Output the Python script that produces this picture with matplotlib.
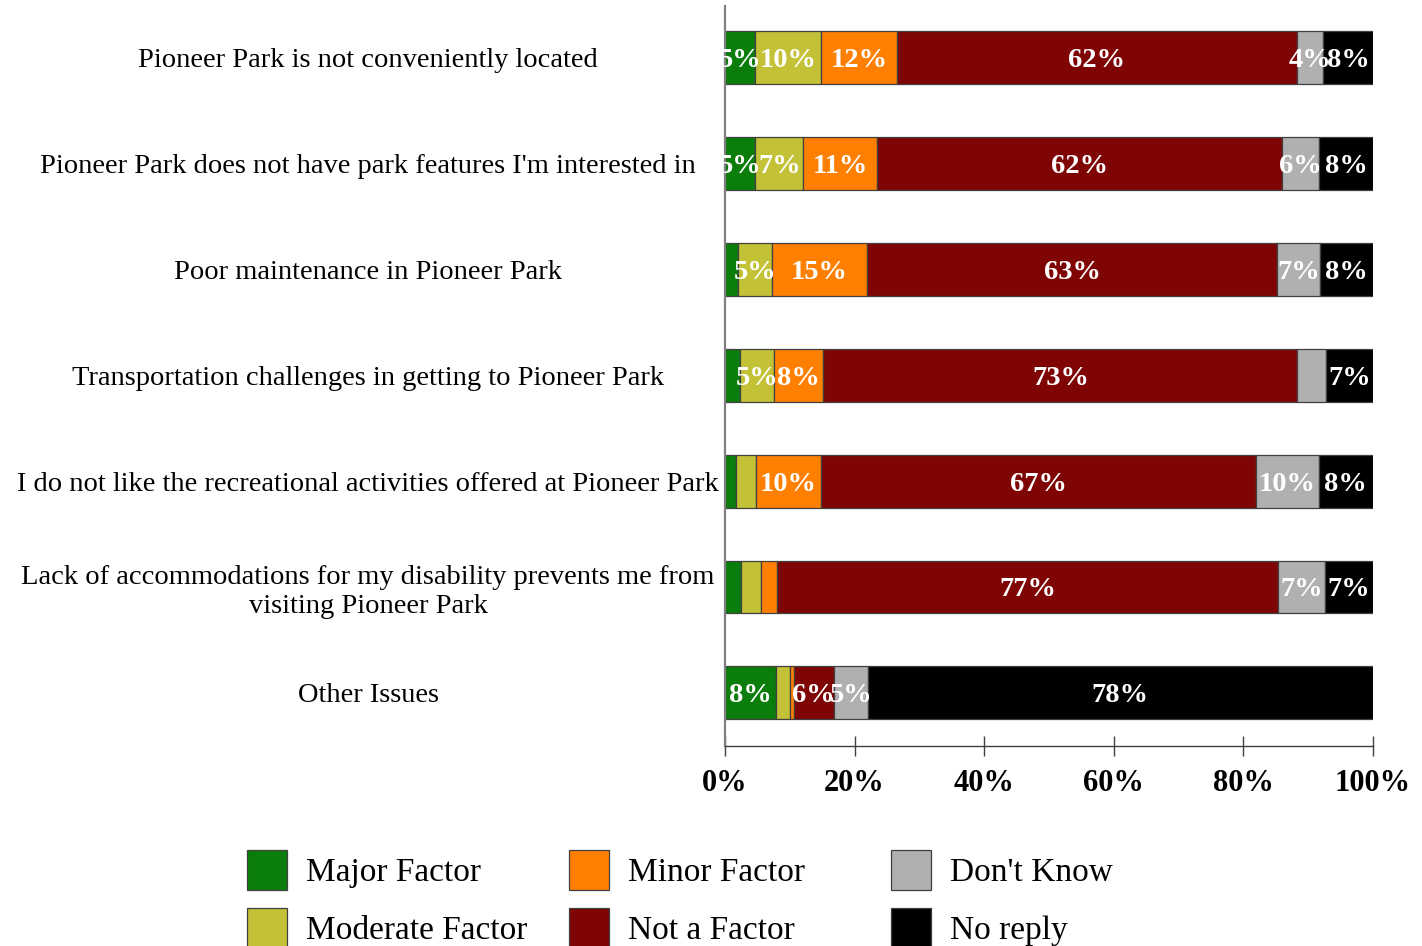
import numpy as np
import matplotlib
matplotlib.use('Agg')
from matplotlib import pyplot as plt
from matplotlib.patches import Patch

plt.rcParams['font.family'] = ['Liberation Serif', 'DejaVu Serif']

categories = [
    'Pioneer Park is not conveniently located',
    "Pioneer Park does not have park features I'm interested in",
    'Poor maintenance in Pioneer Park',
    'Transportation challenges in getting to Pioneer Park',
    'I do not like the recreational activities offered at Pioneer Park',
    'Lack of accommodations for my disability prevents me from\nvisiting Pioneer Park',
    'Other Issues',
]

responses = ['Major Factor', 'Moderate Factor', 'Minor Factor',
             'Not a Factor', "Don't Know", 'No reply']

# percentages, one list per response, rows top to bottom
major = [4.7, 4.7, 2.0, 2.3, 1.7, 2.5, 7.8]
moderate = [10.1, 7.4, 5.3, 5.3, 3.1, 3.1, 2.3]
minor = [11.7, 11.4, 14.6, 7.6, 10.0, 2.5, 0.5]
not_factor = [61.7, 62.4, 63.3, 73.1, 67.2, 77.3, 6.2]
dont_know = [4.1, 5.8, 6.6, 4.4, 9.6, 7.2, 5.2]
no_reply = [7.7, 8.3, 8.2, 7.3, 8.4, 7.4, 78.0]

# labels printed in the bars ('' = not shown)
major_lbl = ['5%', '5%', '', '', '', '', '8%']
moderate_lbl = ['10%', '7%', '5%', '5%', '', '', '']
minor_lbl = ['12%', '11%', '15%', '8%', '10%', '', '']
not_factor_lbl = ['62%', '62%', '63%', '73%', '67%', '77%', '6%']
dont_know_lbl = ['4%', '6%', '7%', '', '10%', '7%', '5%']
no_reply_lbl = ['8%', '8%', '8%', '7%', '8%', '7%', '78%']

series = [major, moderate, minor, not_factor, dont_know, no_reply]
series_lbl = [major_lbl, moderate_lbl, minor_lbl, not_factor_lbl,
              dont_know_lbl, no_reply_lbl]
colors = ['#0a7d0a', '#c3c136', '#ff8000', '#7f0505', '#b0b0b0', '#000000']

fig = plt.figure(figsize=(14.22, 9.46), dpi=100)
ax = fig.add_axes([725 / 1422, 1 - 745.7 / 946, 648 / 1422, 739.7 / 946])

y = np.arange(len(categories))
left = np.zeros(len(categories))
for vals, lbls, col in zip(series, series_lbl, colors):
    bars = ax.barh(y, vals, left=left, height=0.5, color=col,
                   edgecolor='#404040', linewidth=0.9)
    texts = ax.bar_label(bars, labels=lbls, label_type='center',
                         color='white', fontsize=20.5, fontweight='bold')
    for t in texts:
        t.set_verticalalignment('center_baseline')
    left += np.array(vals)

ax.set_xlim(0, 100)
ax.set_ylim(6.5, -0.49)
ax.set_xticks([0, 20, 40, 60, 80, 100])
ax.set_xticklabels(['0%', '20%', '40%', '60%', '80%', '100%'],
                   fontsize=22, fontweight='bold')
ax.set_yticks(y)
ax.set_yticklabels(categories, fontsize=20.5, ha='center',
                   multialignment='center', linespacing=1.2)
ax.tick_params(axis='y', length=0, pad=257)
ax.tick_params(axis='x', direction='inout', length=13.7, width=1,
               color='#404040', pad=10)

for s in ['top', 'right']:
    ax.spines[s].set_visible(False)
ax.spines['left'].set_color('#808080')
ax.spines['left'].set_linewidth(1.6)
ax.spines['bottom'].set_color('#404040')
ax.spines['bottom'].set_linewidth(1)

# legend: three columns placed on a fixed grid
handles = [Patch(facecolor=c, edgecolor='#404040', linewidth=0.9)
           for c in colors]
col_x = [247, 569, 891]
for i, x0 in enumerate(col_x):
    fig.legend(handles[2 * i:2 * i + 2], responses[2 * i:2 * i + 2],
               loc='upper left', bbox_to_anchor=(x0 / 1422, 1 - 850 / 946),
               frameon=False, fontsize=24, borderpad=0, borderaxespad=0,
               handlelength=1.2, handleheight=1.47, handletextpad=0.57,
               labelspacing=0.55)

plt.savefig('out.png', dpi=100)
